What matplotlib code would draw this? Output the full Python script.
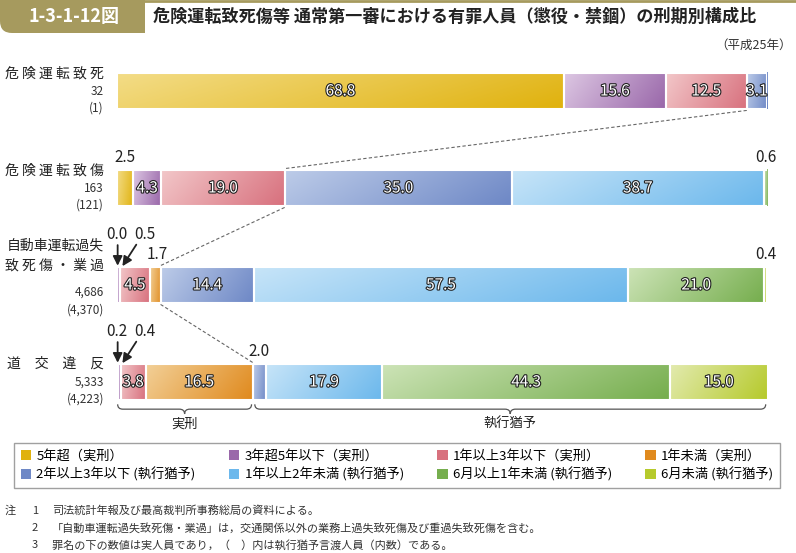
#!/usr/bin/env python3

import matplotlib.pyplot as plt
import numpy as np
from matplotlib.patches import Patch, PathPatch
from matplotlib.path import Path
import matplotlib.patheffects as pe

plt.rcParams['font.family'] = ['Noto Sans CJK JP', 'DejaVu Sans']

W, H = 796, 553

# ---- data ----
rows = ['危 険 運 転 致 死', '危 険 運 転 致 傷', '自動車運転過失\n致 死 傷 ・ 業 過', '道　交　違　反']
persons = ['32', '163', '4,686', '5,333']
suspended = ['(1)', '(121)', '(4,370)', '(4,223)']

categories = ['5年超（実刑）', '3年超5年以下（実刑）', '1年以上3年以下（実刑）', '1年未満（実刑）',
              '2年以上3年以下 (執行猶予)', '1年以上2年未満 (執行猶予)',
              '6月以上1年未満 (執行猶予)', '6月未満 (執行猶予)']

death = [68.8, 15.6, 12.5, 0, 3.1, 0, 0, 0]
injury = [2.5, 4.3, 19.0, 0, 35.0, 38.7, 0.6, 0]
negligence = [0.0, 0.5, 4.5, 1.7, 14.4, 57.5, 21.0, 0.4]
traffic = [0.2, 0.4, 3.8, 16.5, 2.0, 17.9, 44.3, 15.0]
values = [death, injury, negligence, traffic]

# light -> dark gradient per category
col_light = ['#f3dc86', '#dcc6e2', '#f2c6c8', '#f2cf96', '#bccbe8', '#c6e4f8', '#cce3b6', '#e2eaae']
col_dark = ['#e0b20e', '#9a68aa', '#d8717e', '#e08a1e', '#6e88c6', '#6cb8ec', '#76ae4e', '#b6ca2c']

h = 0.38


def hex2rgb(c):
    c = c.lstrip('#')
    return np.array([int(c[i:i + 2], 16) / 255 for i in (0, 2, 4)])


def grad_seg(ax, left, width, y, c1, c2):
    X, Y = np.meshgrid(np.linspace(0, 1, 40), np.linspace(0, 1, 10))
    t = np.clip(0.8 * X + 0.2 * Y, 0, 1)[..., None]
    img = hex2rgb(c1) * (1 - t) + hex2rgb(c2) * t
    ax.imshow(img, extent=(left, left + width, y + h / 2, y - h / 2),
              aspect='auto', interpolation='bilinear', origin='upper', zorder=1)


def brace(ax, x0, x1, ytop, dy):
    r = 0.8
    mid = (x0 + x1) / 2
    ym = ytop + dy
    verts = [(x0, ytop), (x0, ym), (x0 + r, ym), (mid - r, ym), (mid, ym), (mid, ym + dy),
             (mid, ym), (mid + r, ym), (x1 - r, ym), (x1, ym), (x1, ytop)]
    codes = [Path.MOVETO, Path.CURVE3, Path.CURVE3, Path.LINETO, Path.CURVE3, Path.CURVE3,
             Path.CURVE3, Path.CURVE3, Path.LINETO, Path.CURVE3, Path.CURVE3]
    ax.add_patch(PathPatch(Path(verts, codes), fill=False, edgecolor='#555', lw=0.9, clip_on=False))


def px(x, y):
    return x / W, 1 - y / H


fig = plt.figure(figsize=(W / 100, H / 100), dpi=100)

# header decoration
deco = fig.add_axes([0, 0, 1, 1])
deco.set_xlim(0, W)
deco.set_ylim(H, 0)
deco.axis('off')
hdr = Path([(0, 0), (145, 0), (145, 33), (12, 33), (0, 33), (0, 21), (0, 0)],
           [Path.MOVETO, Path.LINETO, Path.LINETO, Path.LINETO, Path.CURVE3, Path.CURVE3, Path.LINETO])
deco.add_patch(PathPatch(hdr, facecolor='#a69a5e', edgecolor='none'))
deco.plot([145, W], [1.2, 1.2], color='#a69a5e', lw=2)

fig.text(*px(74, 17), '1-3-1-12図', color='white', fontsize=13, fontweight='bold', ha='center', va='center')
fig.text(*px(153, 17), '危険運転致死傷等 通常第一審における有罪人員（懲役・禁錮）の刑期別構成比',
         fontsize=12.3, fontweight='bold', ha='left', va='center', color='#222')
fig.text(*px(792, 45), '（平成25年）', fontsize=9, ha='right', va='center', color='#333')

# bars
ax = fig.add_axes([117 / W, (H - 430.5) / H, 650 / W, 388 / H])
stroke = [pe.withStroke(linewidth=1.6, foreground='#222')]
cums = []
for i, vals in enumerate(values):
    left = np.concatenate([[0], np.cumsum(vals)[:-1]])
    cums.append(sum(vals[:4]))
    for j, v in enumerate(vals):
        if v <= 0:
            continue
        grad_seg(ax, left[j], v, i, col_light[j], col_dark[j])
        ax.barh(i, v, left=left[j], height=h, facecolor='none', edgecolor='white', lw=1.5, zorder=2)
        if v >= 3:
            ax.text(left[j] + v / 2, i, f'{v:.1f}', ha='center', va='center', fontsize=11,
                    color='white', path_effects=stroke, zorder=3)

    # row labels
    if '\n' in rows[i]:
        a, b = rows[i].split('\n')
        ax.text(-2, i - 0.41, a, ha='right', va='center', fontsize=10, color='#222')
        ax.text(-2, i - 0.205, b, ha='right', va='center', fontsize=10, color='#222')
        ax.text(-2, i + 0.075, persons[i], ha='right', va='center', fontsize=8.5, color='#333')
        ax.text(-2, i + 0.26, suspended[i], ha='right', va='center', fontsize=8.5, color='#333')
    else:
        ax.text(-2, i - 0.185, rows[i], ha='right', va='center', fontsize=10, color='#222')
        ax.text(-2, i, persons[i], ha='right', va='center', fontsize=8.5, color='#333')
        ax.text(-2, i + 0.175, suspended[i], ha='right', va='center', fontsize=8.5, color='#333')


def above(i, j, dx=0.0):
    vals = values[i]
    x = sum(vals[:j]) + vals[j] / 2 + dx
    ax.text(x, i - 0.315, f'{vals[j]:.1f}', ha='center', va='center', fontsize=11, color='#222')


above(1, 0)
above(1, 6)
above(2, 3, 0.3)
above(2, 7)
above(3, 4)

# tiny segments with arrows
for i in (2, 3):
    vals = values[i]
    ax.text(0.0, i - 0.525, f'{vals[0]:.1f}', ha='center', va='center', fontsize=11, color='#222')
    ax.text(4.3, i - 0.525, f'{vals[1]:.1f}', ha='center', va='center', fontsize=11, color='#222')
    ax.annotate('', xy=(0.1, i - h / 2 + 0.02), xytext=(0.1, i - 0.44),
                arrowprops=dict(arrowstyle='-|>', color='#222', lw=1.3, mutation_scale=14))
    ax.annotate('', xy=(0.6, i - h / 2 + 0.02), xytext=(3.2, i - 0.44),
                arrowprops=dict(arrowstyle='-|>', color='#222', lw=1.3, mutation_scale=14))

# dashed connectors at 実刑 / 執行猶予 boundary
for i in range(3):
    ax.plot([cums[i], cums[i + 1]], [i + h / 2 + 0.01, i + 1 - h / 2 - 0.01],
            ls=(0, (3, 2)), color='#666', lw=0.8, zorder=0)

# braces
b = cums[3]
brace(ax, 0.1, b - 0.2, 3 + h / 2 + 0.04, 0.05)
brace(ax, b + 0.3, 99.8, 3 + h / 2 + 0.04, 0.05)
ax.text(b / 2, 3.43, '実刑', ha='center', va='center', fontsize=9.5, color='#222')
ax.text((b + 100) / 2, 3.43, '執行猶予', ha='center', va='center', fontsize=9.5, color='#222')

ax.set_xlim(0, 100)
ax.set_ylim(3.5, -0.5)
ax.axis('off')

# legend
handles = [Patch(facecolor=col_dark[k], edgecolor='none') for k in range(8)]
order = [0, 4, 1, 5, 2, 6, 3, 7]
leg = fig.legend([handles[k] for k in order], [categories[k] for k in order], ncol=4,
                 loc='center', bbox_to_anchor=(14 / W, 1 - 491 / H, 766 / W, 51 / H), mode='expand',
                 frameon=True, fancybox=False, edgecolor='#888', fontsize=9.5,
                 handlelength=0.8, handleheight=0.8, handletextpad=0.4, borderaxespad=0,
                 columnspacing=0.8, labelspacing=0.35, borderpad=0.5)
leg.get_frame().set_linewidth(1.0)

# notes
notes = [('注', '1', '司法統計年報及び最高裁判所事務総局の資料による。'),
         ('', '2', '「自動車運転過失致死傷・業過」は，交通関係以外の業務上過失致死傷及び重過失致死傷を含む。'),
         ('', '3', '罪名の下の数値は実人員であり，（　）内は執行猶予言渡人員（内数）である。')]
for k, (a, n, t) in enumerate(notes):
    y = 511 + k * 17
    if a:
        fig.text(*px(5, y), a, fontsize=8, va='center', color='#333')
    fig.text(*px(32, y), n, fontsize=8, va='center', color='#333')
    fig.text(*px(52, y), t, fontsize=8, va='center', color='#333')

fig.savefig('out.png', dpi=100)
